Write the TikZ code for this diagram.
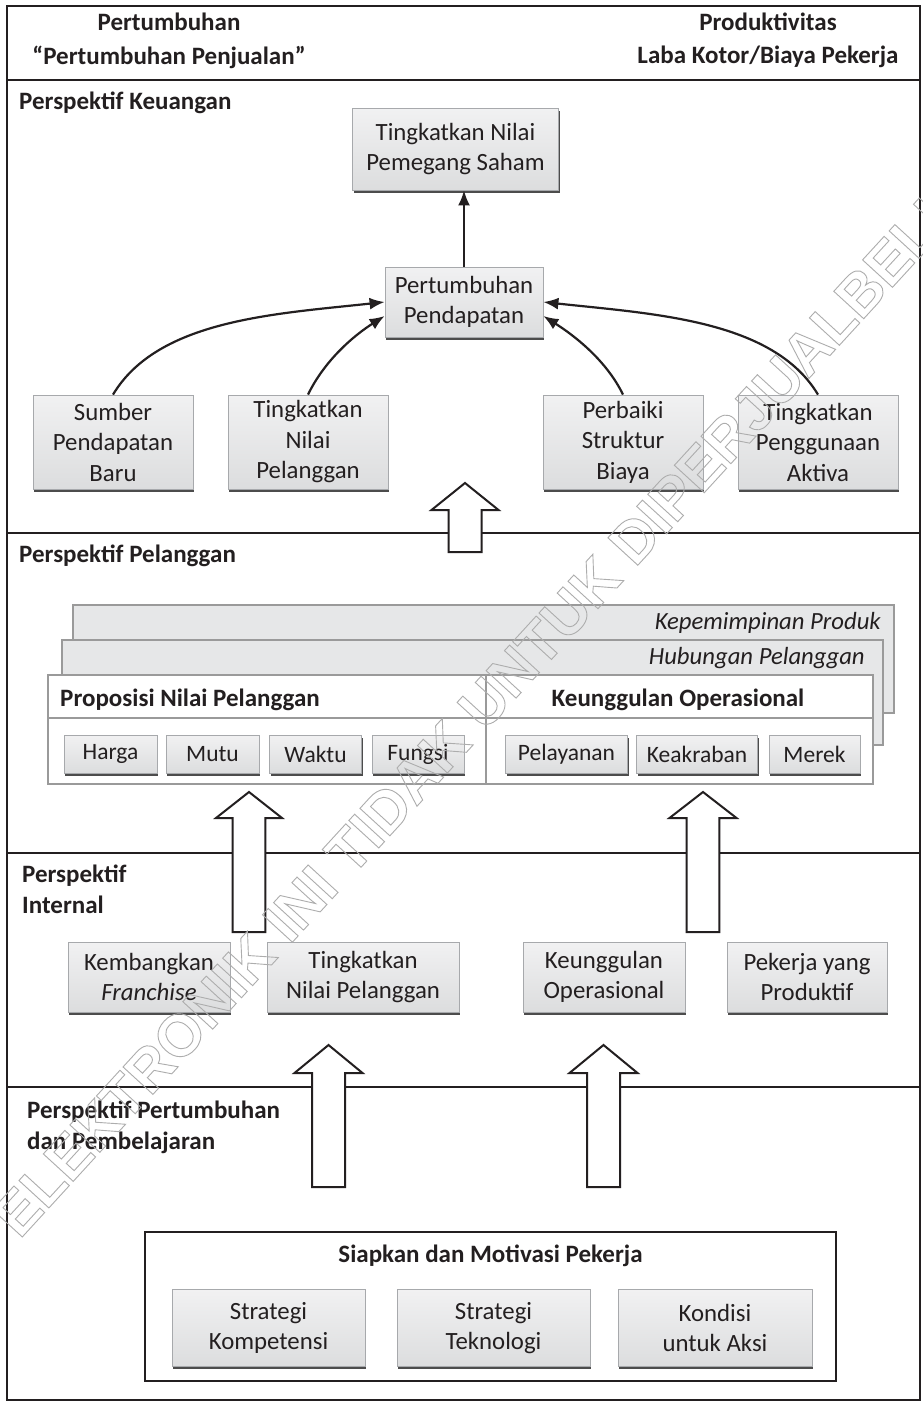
\documentclass[tikz,border=0pt]{standalone}
\usepackage{fontspec}
\setmainfont{Carlito}
\newfontfamily\wmfont{Liberation Sans}
\usetikzlibrary{arrows.meta,shadows,calc}

\definecolor{ink}{HTML}{231F20}
\definecolor{boxtop}{HTML}{F1F1F2}
\definecolor{boxbot}{HTML}{DCDDDE}
\definecolor{panelfill}{HTML}{E6E7E8}
\definecolor{paneledge}{HTML}{9A9A9A}
\definecolor{boxedge}{HTML}{A7A9AC}

% upward hollow block arrow: centre x, tip y, head base y, bottom y, head half width, shaft half width
\newcommand\hollowup[6]{%
  \draw[blockarrow] (#1,#2) -- (#1+#5,#3) -- (#1+#6,#3) -- (#1+#6,#4)
    -- (#1-#6,#4) -- (#1-#6,#3) -- (#1-#5,#3) -- cycle;}
% outlined (stroked, unfilled) glyphs for the watermark letters
\newcommand\outlinetext[1]{\special{pdf:literal direct 1 Tr 0.9 w 0.68 G}#1\special{pdf:literal direct 0 Tr}}

\begin{document}
\begin{tikzpicture}[x=1pt,y=-1pt,
  graybox/.style={rectangle, draw=boxedge, line width=0.8pt,
    top color=boxtop, bottom color=boxbot, align=center, inner sep=0pt,
    text=ink, font=\fontsize{24.8}{30.5}\selectfont,
    drop shadow={shadow xshift=1.2pt, shadow yshift=-2.6pt, fill=black!70, opacity=1}},
  button/.style={graybox, minimum height=38pt, font=\fontsize{23.5}{28}\selectfont},
  label/.style={font=\bfseries\fontsize{25}{31}\selectfont, text=ink, inner sep=0pt, align=left},
  panel/.style={rectangle, draw=paneledge, line width=1.8pt, fill=panelfill, inner sep=0pt},
  panelname/.style={font=\itshape\fontsize{24.7}{30}\selectfont, text=ink, inner sep=0pt, anchor=east},
  thinarrow/.style={draw=ink, line width=2.2pt, -{Latex[length=15pt,width=12pt]}},
  blockarrow/.style={fill=white, draw=ink, line width=2pt, line join=miter},
  frame/.style={draw=ink, line width=2.4pt},
  wm/.style={font=\wmfont\bfseries\fontsize{59}{59}\selectfont, text=gray!35, rotate=47.5, anchor=base west, inner sep=0pt}
]
\fill[white] (0,0) rectangle (923,1405);
\useasboundingbox (0,0) rectangle (923,1405);

% outer frame and the horizontal bands
\draw[frame] (7,6) rectangle (920,1400);
\draw[frame] (7,80) -- (920,80);
\draw[frame] (7,533) -- (920,533);
\draw[frame] (7,853) -- (920,853);
\draw[frame] (7,1087) -- (920,1087);

% header
\node[label, align=center] (hgl) at (169,22) {Pertumbuhan};
\node[label, align=center] (hgl2) at (169,57) {“Pertumbuhan Penjualan”};
\node[label, align=center] (hpr) at (768,22) {Produktivitas};
\node[label, align=center] (hpr2) at (768,57) {Laba Kotor/Biaya Pekerja};

% financial perspective
\node[label, anchor=west] (lkeu) at (19,103) {Perspektif Keuangan};
\node[graybox, minimum width=206pt, minimum height=82pt] (tns) at (455.5,149) {Tingkatkan Nilai\\Pemegang Saham};
\node[graybox, minimum width=158pt, minimum height=70pt] (pp) at (464,302) {Pertumbuhan\\Pendapatan};
\node[graybox, minimum width=160pt, minimum height=94pt] (sumber) at (113,442) {Sumber\\Pendapatan\\Baru};
\node[graybox, minimum width=160pt, minimum height=94pt] (tnp) at (308,442) {Tingkatkan\\Nilai\\Pelanggan};
\node[graybox, minimum width=160pt, minimum height=94pt] (biaya) at (623,442) {Perbaiki\\Struktur\\Biaya};
\node[graybox, minimum width=160pt, minimum height=94pt] (aktiva) at (818,442) {Tingkatkan\\Penggunaan\\Aktiva};

\draw[thinarrow] (pp.north) -- (pp.north |- tns.south);
\draw[thinarrow] (sumber.north) .. controls ($(sumber.north)+(45,-75)$) and ($(pp.west)+(-110,12)$) .. (pp.west);
\draw[thinarrow] (tnp.north) .. controls ($(tnp.north)+(17,-35)$) and ($(pp.west)+(-30,33)$) .. ($(pp.west)+(0,14)$);
\draw[thinarrow] (biaya.north) .. controls ($(biaya.north)+(-17,-35)$) and ($(pp.east)+(30,33)$) .. ($(pp.east)+(0,14)$);
\draw[thinarrow] (aktiva.north) .. controls ($(aktiva.north)+(-45,-75)$) and ($(pp.east)+(110,12)$) .. (pp.east);

% customer perspective
\node[label, anchor=west] (lpel) at (19,556) {Perspektif Pelanggan};
\node[panel, minimum width=821pt, minimum height=108pt] (pprod) at (483.5,659) {};
\node[panelname] (tprod) at ($(pprod.north east)+(-14,19)$) {Kepemimpinan Produk};
\node[panel, minimum width=821pt, minimum height=105pt] (phub) at (472.5,692.5) {};
\node[panelname] (thub) at ($(phub.north east)+(-19,19)$) {Hubungan Pelanggan};
\node[panel, fill=white, minimum width=825pt, minimum height=109pt] (pops) at (460.5,729.5) {};
\draw[draw=paneledge, line width=1.8pt] (pops.west |- 0,718) -- (pops.east |- 0,718);
\draw[draw=paneledge, line width=1.8pt] (pops.north -| 486,0) -- (pops.south -| 486,0);
\node[label, anchor=west] (tprop) at (60,700) {Proposisi Nilai Pelanggan};
\node[label, align=center] (tops) at (678,700) {Keunggulan Operasional};
\node[button, minimum width=93pt] (harga) at (110.5,754) {Harga};
\node[button, minimum width=93pt] (mutu) at (212.5,754) {Mutu};
\node[button, minimum width=92pt] (waktu) at (315.5,754) {Waktu};
\node[button, minimum width=92pt] (fungsi) at (418,754) {Fungsi};
\node[button, minimum width=122pt] (layan) at (566.5,754) {Pelayanan};
\node[button, minimum width=121pt] (akrab) at (697,754) {Keakraban};
\node[button, minimum width=91pt] (merek) at (814.5,754) {Merek};

% internal perspective
\node[label, anchor=west] (lint) at (22,889) {Perspektif\\Internal};
\node[graybox, minimum width=162pt, minimum height=70pt] (kemb) at (149,977) {Kembangkan\\\textit{Franchise}};
\node[graybox, minimum width=192pt, minimum height=70pt] (tnp2) at (363,977) {Tingkatkan\\Nilai Pelanggan};
\node[graybox, minimum width=162pt, minimum height=70pt] (keung) at (604,977) {Keunggulan\\Operasional};
\node[graybox, minimum width=160pt, minimum height=70pt] (pekerja) at (807,977) {Pekerja yang\\Produktif};

% growth and learning perspective
\node[label, anchor=west] (lpb) at (27,1127) {Perspektif Pertumbuhan\\dan Pembelajaran};
\node[draw=ink, line width=2.2pt, minimum width=691pt, minimum height=149pt, inner sep=0pt] (siap) at (490.5,1306.5) {};
\node[label, align=center] (tsiap) at (490.5,1256) {Siapkan dan Motivasi Pekerja};
\node[graybox, minimum width=193pt, minimum height=77pt] (komp) at (268.5,1328) {Strategi\\Kompetensi};
\node[graybox, minimum width=193pt, minimum height=77pt] (tekno) at (493.5,1328) {Strategi\\Teknologi};
\node[graybox, minimum width=194pt, minimum height=77pt] (kondisi) at (715,1328) {Kondisi\\untuk Aksi};

% hollow arrows between the perspectives
\hollowup{465}{483}{510}{552}{33.5}{16.5}
\hollowup{249}{792}{818}{932}{33}{16.3}
\hollowup{703}{792}{818}{932}{33.5}{16.3}
\hollowup{328.5}{1045}{1073}{1187}{34}{16.5}
\hollowup{603.5}{1045}{1073}{1187}{34}{16.5}

% watermark, outlined letters
\begin{scope}
\clip (0,0) rectangle (923,1405);
\node[wm] (wmark) at (19.5,1240) {\outlinetext{ELEKTRONIK INI TIDAK UNTUK DIPERJUALBELIKAN}};
\end{scope}
\end{tikzpicture}
\end{document}
